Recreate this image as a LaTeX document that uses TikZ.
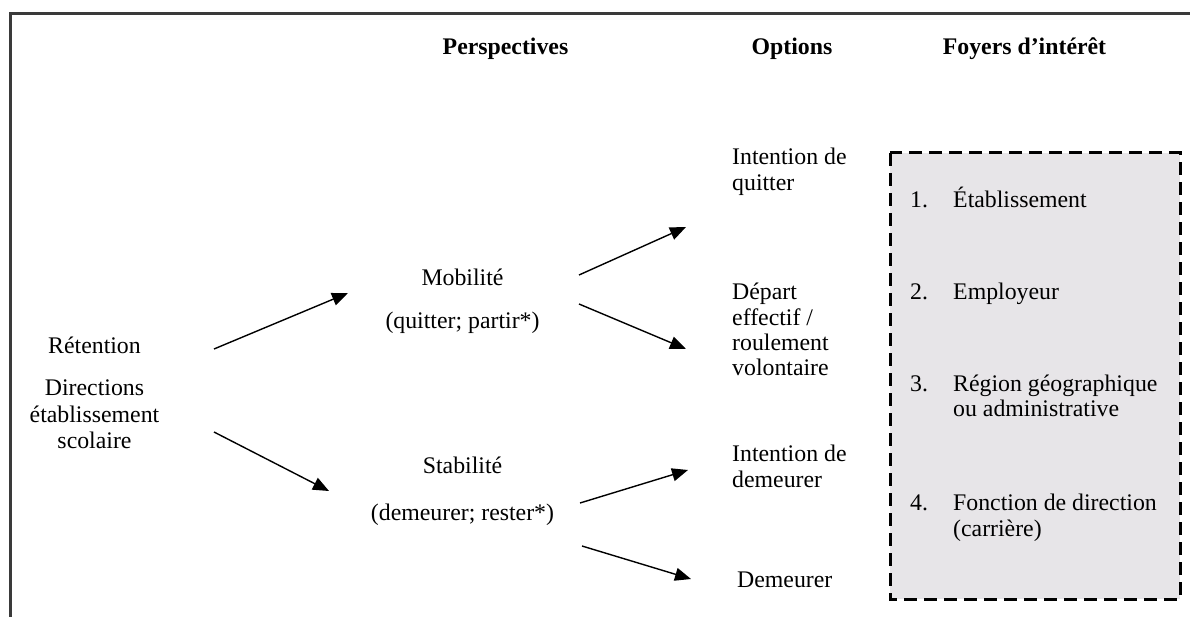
\documentclass[tikz,border=0pt]{standalone}
\usepackage{fontspec}
\setmainfont{Liberation Serif}
\usetikzlibrary{arrows.meta}
\definecolor{boxgray}{HTML}{E7E5E8}
\definecolor{framegray}{HTML}{3A3A3A}
\begin{document}
\begin{tikzpicture}[x=1pt,y=-1pt,
  every node/.style={inner sep=0pt, font=\fontsize{23.8}{26.5}\selectfont},
  txt/.style={anchor=base},
  txtw/.style={anchor=base west},
  head/.style={anchor=base, font=\fontsize{23.8}{26.5}\selectfont\bfseries},
  arr/.style={line width=1.4pt, -{Triangle[length=16pt,width=13pt]}},
  dashbox/.style={draw, line width=3pt, dash pattern=on 13pt off 7pt, fill=boxgray}]
\useasboundingbox (0,0) rectangle (1190,617);
\draw[line width=3pt, color=framegray] (10,617) -- (10,14) -- (1190,14);

% headers
\node[head] (hP) at (505.5,55) {Perspectives};
\node[head] (hO) at (792,55) {Options};
\node[head] (hF) at (1024.5,55) {Foyers d’intérêt};

% left
\node[txt] (ret) at (94.5,353) {Rétention};
\node[txt] (dir1) at (94.5,395) {Directions};
\node[txt] (dir2) at (94.5,422) {établissement};
\node[txt] (dir3) at (94.5,448) {scolaire};

% perspectives
\node[txt] (mob) at (462.5,286) {Mobilité};
\node[txt] (mobs) at (462.5,328) {(quitter; partir*)};
\node[txt] (sta) at (462.5,473) {Stabilité};
\node[txt] (stas) at (462.5,520) {(demeurer; rester*)};

% options
\node[txtw] (iq1) at (732,165) {Intention de};
\node[txtw] (iq2) at (732,191) {quitter};
\node[txtw] (dep1) at (732,300) {Départ};
\node[txtw] (dep2) at (732,325) {effectif /};
\node[txtw] (dep3) at (732,350) {roulement};
\node[txtw] (dep4) at (732,375) {volontaire};
\node[txtw] (id1) at (732,461) {Intention de};
\node[txtw] (id2) at (732,487) {demeurer};
\node[txtw] (dem) at (737,587) {Demeurer};

% box
\draw[dashbox] (890,153) rectangle (1180,599);
\node[txtw] (n1) at (910,208) {1.};
\node[txtw] (f1) at (953,208) {Établissement};
\node[txtw] (n2) at (910,300) {2.};
\node[txtw] (f2) at (953,300) {Employeur};
\node[txtw] (n3) at (910,391) {3.};
\node[txtw] (f3a) at (953,391) {Région géographique};
\node[txtw] (f3b) at (953,416) {ou administrative};
\node[txtw] (n4) at (910,510) {4.};
\node[txtw] (f4a) at (953,510) {Fonction de direction};
\node[txtw] (f4b) at (953,536) {(carrière)};

% arrow end points
\coordinate (a1s) at (214,349); \coordinate (a1e) at (348,293);
\coordinate (a2s) at (214,432); \coordinate (a2e) at (329,491);
\coordinate (a3s) at (579,275); \coordinate (a3e) at (686,227);
\coordinate (a4s) at (579,304); \coordinate (a4e) at (686,349);
\coordinate (a5s) at (580,503); \coordinate (a5e) at (688,470);
\coordinate (a6s) at (582,546); \coordinate (a6e) at (691,579);
\draw[arr] (a1s) -- (a1e);
\draw[arr] (a2s) -- (a2e);
\draw[arr] (a3s) -- (a3e);
\draw[arr] (a4s) -- (a4e);
\draw[arr] (a5s) -- (a5e);
\draw[arr] (a6s) -- (a6e);
\end{tikzpicture}
\end{document}
